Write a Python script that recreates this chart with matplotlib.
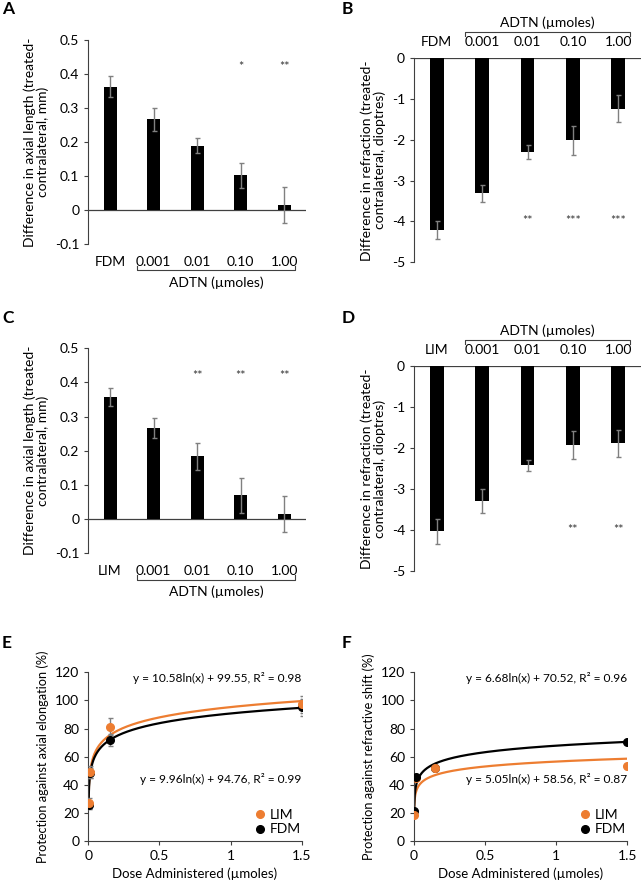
import numpy as np
import matplotlib.pyplot as plt
from matplotlib.transforms import blended_transform_factory

plt.rcParams['font.family'] = ['Lato', 'DejaVu Sans']

doses = ['0.001', '0.01', '0.10', '1.00']

# A - axial length, FDM
a_means = [0.363, 0.267, 0.190, 0.103, 0.016]
a_err = [0.030, 0.034, 0.022, 0.037, 0.053]
a_stars = ['', '', '', '*', '**']

# B - refraction, FDM
b_means = [-4.22, -3.31, -2.30, -2.01, -1.24]
b_err = [0.22, 0.21, 0.17, 0.35, 0.33]
b_stars = ['', '', '**', '***', '***']

# C - axial length, LIM
c_means = [0.357, 0.266, 0.184, 0.070, 0.014]
c_err = [0.027, 0.029, 0.040, 0.051, 0.053]
c_stars = ['', '', '**', '**', '**']

# D - refraction, LIM
d_means = [-4.04, -3.29, -2.42, -1.93, -1.88]
d_err = [0.30, 0.29, 0.14, 0.34, 0.33]
d_stars = ['', '', '', '**', '**']

# E / F - protection vs dose
dose_x = [0.0015, 0.015, 0.15, 1.5]
e_lim = [26.9, 49.0, 81.2, 97.1]
e_lim_err = [4.0, 4.0, 6.0, 6.0]
e_fdm = [25.8, 48.3, 71.9, 95.2]
e_fdm_err = [3.0, 3.5, 4.5, 6.0]
f_lim = [18.3, 44.5, 52.1, 53.1]
f_lim_err = [1.0, 1.0, 1.0, 2.0]
f_fdm = [21.4, 45.7, 52.1, 70.7]
f_fdm_err = [1.0, 1.0, 1.0, 2.0]
e_fit = {'LIM': (10.58, 99.55), 'FDM': (9.96, 94.76)}
f_fit = {'LIM': (5.05, 58.56), 'FDM': (6.68, 70.52)}
# which series sits in front at each dose
e_front = ['LIM', 'LIM', 'LIM', 'LIM']
f_front = ['LIM', 'FDM', 'LIM', 'LIM']

ORANGE = '#ED7D31'
AXC = '#404040'
ERRC = '#808080'

W = 643.0
H = 886.0

fig = plt.figure(figsize=(W / 100, H / 100), dpi=100)


def rect(l, r, t, b):
    return [l / W, 1 - b / H, (r - l) / W, (b - t) / H]


def letter(x, y, s):
    fig.text(x / W, 1 - y / H, s, fontsize=12.5, fontweight='bold', ha='left', va='center')


def style_axis(ax):
    for s in ['top', 'right']:
        ax.spines[s].set_visible(False)
    ax.spines['left'].set_color(AXC)
    ax.spines['bottom'].set_color(AXC)
    ax.tick_params(colors=AXC, labelcolor='black', labelsize=10, length=3, width=0.8)


def bar_panel(r, ctrl, means, errs, stars, star_y, ylim, yticks, ylabel, top):
    ax = fig.add_axes(r)
    x = np.arange(len(means))
    ax.bar(x, means, width=0.3, color='black', zorder=2)
    ax.errorbar(x, means, yerr=errs, fmt='none', ecolor=ERRC, elinewidth=1,
                capsize=1.8, capthick=1, zorder=3)
    ax.axhline(0, color=AXC, lw=0.9, zorder=1)
    ax.set_xlim(-0.5, 4.5)
    ax.set_ylim(ylim)
    ax.set_yticks(yticks)
    ax.set_yticklabels([f'{v:g}' for v in yticks])
    style_axis(ax)
    ax.spines['bottom'].set_visible(False)
    ax.set_xticks([])
    ax.set_ylabel(ylabel, fontsize=10, linespacing=1.05)
    for i, s in enumerate(stars):
        if s:
            ax.text(i, star_y, s, ha='center', va='center', fontsize=9, color='#333333')
    tr = blended_transform_factory(ax.transData, ax.transAxes)
    names = [ctrl] + doses
    if top:
        ly, by, ty, ay = 1.080, 1.129, 1.109, 1.172
    else:
        ly, by, ty, ay = -0.088, -0.128, -0.106, -0.186
    for i, n in enumerate(names):
        ax.text(i, ly, n, transform=tr, ha='center', va='center', fontsize=10)
    ax.plot([0.63, 0.63, 4.26, 4.26], [ty, by, by, ty], transform=tr,
            color=AXC, lw=0.8, clip_on=False)
    ax.text(2.445, ay, 'ADTN (µmoles)', transform=tr, ha='center', va='center',
            fontsize=10)
    return ax


bar_panel(rect(88.3, 305.8, 40, 244.3), 'FDM', a_means, a_err, a_stars, 0.42,
          (-0.1, 0.5), [-0.1, 0, 0.1, 0.2, 0.3, 0.4, 0.5],
          'Difference in axial length (treated-\ncontralateral, mm)', False)
bar_panel(rect(414, 641, 58.3, 262.3), 'FDM', b_means, b_err, b_stars, -3.98,
          (-5, 0), [-5, -4, -3, -2, -1, 0],
          'Difference in refraction (treated-\ncontralateral, dioptres)', True)
bar_panel(rect(88.3, 305.8, 348.3, 553.3), 'LIM', c_means, c_err, c_stars, 0.419,
          (-0.1, 0.5), [-0.1, 0, 0.1, 0.2, 0.3, 0.4, 0.5],
          'Difference in axial length (treated-\ncontralateral, mm)', False)
bar_panel(rect(414, 641, 366.3, 570.7), 'LIM', d_means, d_err, d_stars, -4.0,
          (-5, 0), [-5, -4, -3, -2, -1, 0],
          'Difference in refraction (treated-\ncontralateral, dioptres)', True)


def dose_panel(r, lim, lim_err, fdm, fdm_err, fits, front, ylabel, eqs):
    ax = fig.add_axes(r)
    xs = np.linspace(dose_x[0], dose_x[-1], 400)
    for name, col in [('LIM', ORANGE), ('FDM', 'black')]:
        a, b = fits[name]
        ax.plot(xs, a * np.log(xs / 1.5) + b, color=col, lw=1.6, zorder=2)
    series = {'LIM': (lim, lim_err, ORANGE), 'FDM': (fdm, fdm_err, 'black')}
    for i, xv in enumerate(dose_x):
        for name in ['LIM', 'FDM']:
            vals, errs, col = series[name]
            z = 5 if name == front[i] else 4
            ax.errorbar([xv], [vals[i]], yerr=[errs[i]], fmt='none', ecolor=ERRC,
                        elinewidth=1, capsize=1.8, zorder=3)
            ax.plot([xv], [vals[i]], 'o', color=col, ms=5.5, zorder=z)
    ax.set_xlim(0, 1.5)
    ax.set_ylim(0, 120)
    ax.set_xticks([0, 0.5, 1, 1.5])
    ax.set_xticklabels(['0', '0.5', '1', '1.5'])
    ax.set_yticks(range(0, 121, 20))
    style_axis(ax)
    ax.set_ylabel(ylabel, fontsize=9.2)
    ax.set_xlabel('Dose Administered (µmoles)', fontsize=9.5)
    for txt, y in eqs:
        ax.text(1.0, y, txt, transform=ax.transAxes, ha='right', va='center', fontsize=8.6)
    h = [plt.Line2D([], [], ls='none', marker='o', color=c, ms=5.5) for c in [ORANGE, 'black']]
    ax.legend(h, ['LIM', 'FDM'], loc='lower right', bbox_to_anchor=(1.02, 0.0),
              frameon=False, fontsize=10, handletextpad=0.1, borderaxespad=0,
              labelspacing=0.2, handlelength=1.2)
    return ax


dose_panel(rect(88.3, 301.7, 672.3, 841), e_lim, e_lim_err, e_fdm, e_fdm_err, e_fit, e_front,
           'Protection against axial elongation (%)',
           [('y = 10.58ln(x) + 99.55, R² = 0.98', 0.965),
            ('y = 9.96ln(x) + 94.76, R² = 0.99', 0.37)])
dose_panel(rect(414, 627.3, 672.3, 841), f_lim, f_lim_err, f_fdm, f_fdm_err, f_fit, f_front,
           'Protection against refractive shift (%)',
           [('y = 6.68ln(x) + 70.52, R² = 0.96', 0.965),
            ('y = 5.05ln(x) + 58.56, R² = 0.87', 0.37)])

letter(2, 9, 'A')
letter(342, 9, 'B')
letter(2, 318, 'C')
letter(342, 318, 'D')
letter(2, 643, 'E')
letter(342, 643, 'F')

fig.savefig('out.png', dpi=100)
